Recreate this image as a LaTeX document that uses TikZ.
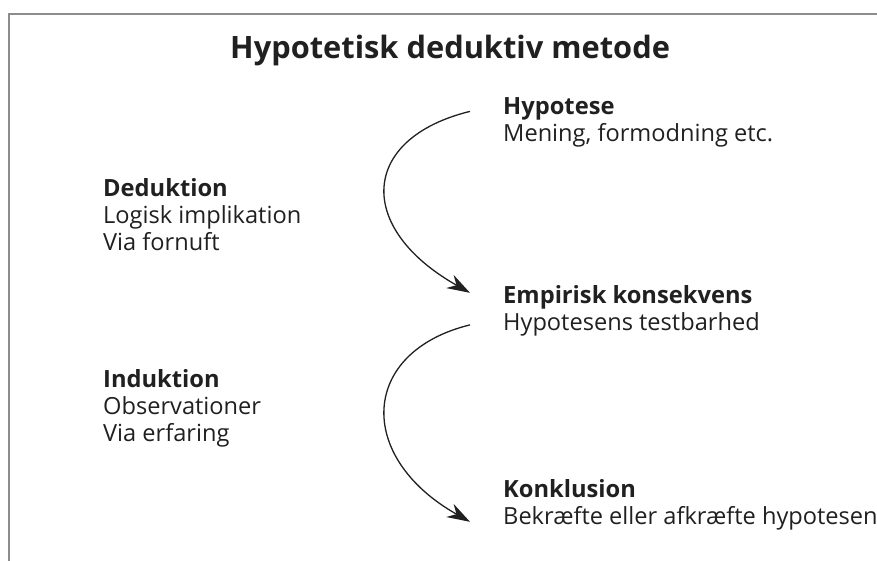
\documentclass[tikz,border=0pt]{standalone}
\usepackage{fontspec}
\setmainfont{Open Sans}
\usetikzlibrary{arrows.meta}
\tikzstyle{every node}=[inner sep=0pt, anchor=base west]
\definecolor{frame}{RGB}{140,140,140}
\definecolor{ink}{RGB}{32,32,32}
\tikzstyle{title}=[text=ink, font=\fontsize{30.8}{36}\selectfont\bfseries]
\tikzstyle{head}=[text=ink, font=\fontsize{23.7}{28}\selectfont\bfseries]
\tikzstyle{body}=[text=ink, font=\fontsize{23.6}{28}\selectfont]
\tikzstyle{curvearrow}=[draw=ink, line width=1.3pt, -{Stealth[length=23pt,width=15pt]}]

\begin{document}
\begin{tikzpicture}[x=1pt, y=-1pt]
    \useasboundingbox (0,0) rectangle (877,561);
    \draw[frame, line width=2pt] (9,561) -- (9,14) -- (877,14);

    \node[title] (title) at (230,59) {Hypotetisk deduktiv metode};

    % right column
    \node[head] (hyp) at (503,115) {Hypotese};
    \node[body] (hypsub) at (503,142) {Mening, formodning etc.};
    \node[head] (emp) at (503,303) {Empirisk konsekvens};
    \node[body] (empsub) at (503,330) {Hypotesens testbarhed};
    \node[head] (konk) at (503,497) {Konklusion};
    \node[body] (konksub) at (503,524) {Bekræfte eller afkræfte hypotesen};

    % left column
    \node[head] (ded) at (103,197) {Deduktion};
    \node[body] (dedsub1) at (103,224) {Logisk implikation};
    \node[body] (dedsub2) at (103,251) {Via fornuft};
    \node[head] (ind) at (103,387) {Induktion};
    \node[body] (indsub1) at (103,414) {Observationer};
    \node[body] (indsub2) at (103,441) {Via erfaring};

    \draw[curvearrow] ([xshift=-33pt,yshift=-2pt]hyp.west)
        .. controls +(-110,27) and +(-115,-65) .. ([xshift=-33pt,yshift=4pt]emp.west);
    \draw[curvearrow] ([xshift=-33pt,yshift=-1pt]empsub.west)
        .. controls +(-110,27) and +(-115,-65) .. ([xshift=-33pt,yshift=-4pt]konksub.west);
\end{tikzpicture}
\end{document}
